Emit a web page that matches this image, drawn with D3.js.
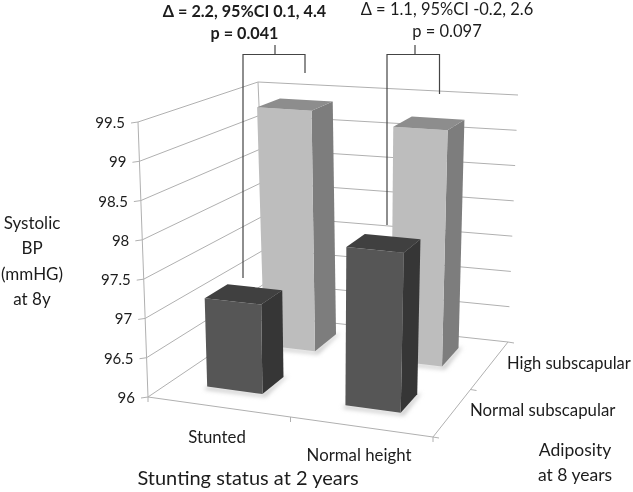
<!DOCTYPE html>
<html>
<head>
<meta charset="utf-8">
<script src="https://cdn.jsdelivr.net/npm/d3@7/dist/d3.min.js"></script>
<style>
html, body { margin: 0; padding: 0; background: #fff; }
svg { display: block; filter: blur(0.35px); }
text { font-family: Lato, "Open Sans", sans-serif; fill: #1c1c1c; }
</style>
</head>
<body>
<div id="chart"></div>
<script>
var categories = ["Stunted", "Normal height"];
var depths = ["Normal subscapular", "High subscapular"];
var normalSubscapular = [97.15, 98.0];
var highSubscapular = [99.35, 99.2];
var valueTicks = [96, 96.5, 97, 97.5, 98, 98.5, 99, 99.5];
var yTitle = ["Systolic", "BP", "(mmHG)", "at 8y"];
var depthTitle = ["Adiposity", "at 8 years"];
var xTitle = "Stunting status at 2 years";
var notes = [
  { lines: ["\u0394 = 2.2, 95%CI 0.1, 4.4", "p = 0.041"], bold: true },
  { lines: ["\u0394 = 1.1, 95%CI -0.2, 2.6", "p = 0.097"], bold: false }
];

var width = 633, height = 492;
var svg = d3.select("#chart").append("svg").attr("width", width).attr("height", height);

var blur = svg.append("defs").append("filter").attr("id", "soft")
  .attr("x", "-20%").attr("y", "-20%").attr("width", "140%").attr("height", "140%");
blur.append("feGaussianBlur").attr("stdDeviation", 2);

// box corners on screen: floor then ceiling, front-left, front-right, back-right, back-left
var floor = [[148, 397], [433, 437], [508, 342], [268, 316]];
var ceil = [[138, 122], [441, 146], [518, 95], [258, 82]];

function bilinear(c, u, v) {
  return [0, 1].map(function(i) {
    return c[0][i] * (1 - u) * (1 - v) + c[1][i] * u * (1 - v) + c[2][i] * u * v + c[3][i] * (1 - u) * v;
  });
}
function project(u, v, w) {
  var a = bilinear(floor, u, v), b = bilinear(ceil, u, v);
  return [a[0] + (b[0] - a[0]) * w, a[1] + (b[1] - a[1]) * w];
}

var wScale = d3.scaleLinear().domain([96, 99.5]).range([0, 1]);
var uScale = d3.scaleBand().domain(categories).range([0, 1]).paddingInner(0.6).paddingOuter(0.3).align(0.44);
var vScale = d3.scaleBand().domain(depths).range([0, 1]).paddingInner(0.6).paddingOuter(0.3).align(0.63);

var line = d3.line();
var gridColor = "#b0b0b0";

function seg(g, a, b, color) {
  g.append("path").attr("d", line([a, b])).attr("fill", "none")
    .attr("stroke", color || gridColor).attr("stroke-width", 1);
}

// walls and floor
var grid = svg.append("g");
valueTicks.forEach(function(t) {
  var w = wScale(t);
  seg(grid, project(0, 0, w), project(0, 1, w));
  seg(grid, project(0, 1, w), project(1, 1, w));
  var p = project(0, 0, w);
  seg(grid, [p[0] - 7, p[1] + 1], p);
  svg.append("text").attr("x", p[0] - 13).attr("y", p[1] + 6).attr("text-anchor", "end")
    .attr("font-size", 15).text(t);
});
seg(grid, project(0, 0, 0), project(0, 0, 1));
seg(grid, project(0, 1, 0), project(0, 1, 1));
seg(grid, project(0, 0, 0), project(1, 0, 0));
seg(grid, project(1, 0, 0), project(1, 1, 0));

[0, 0.5, 1].forEach(function(u) {
  var p = project(u, 0, 0);
  seg(grid, p, [p[0], p[1] + 5]);
});
[0, 0.5, 1].forEach(function(v) {
  var p = project(1, v, 0);
  seg(grid, p, [p[0] + 6, p[1] + 1]);
});

// bars, back row first
var rows = [
  { depth: depths[1], values: highSubscapular, front: "#bdbdbd", top: "#8d8d8d", side: "#7d7d7d" },
  { depth: depths[0], values: normalSubscapular, front: "#565656", top: "#404040", side: "#363636" }
];

rows.forEach(function(row) {
  var v0 = vScale(row.depth), v1 = v0 + vScale.bandwidth();
  categories.forEach(function(cat, i) {
    var u0 = uScale(cat), u1 = u0 + uScale.bandwidth();
    var w = wScale(row.values[i]);
    var g = svg.append("g");
    var bFL = project(u0, v0, 0), bFR = project(u1, v0, 0), bBR = project(u1, v1, 0);
    var tFL = project(u0, v0, w), tFR = project(u1, v0, w), tBR = project(u1, v1, w), tBL = project(u0, v1, w);
    g.append("path").attr("filter", "url(#soft)").attr("fill", "#c4c4c4")
      .attr("d", line([bFL, bFR, bBR, [bBR[0] + 4, bBR[1] - 1], [bFR[0] + 3, bFR[1] + 3], [bFL[0] - 3, bFL[1] + 3]]) + "Z");
    g.append("path").attr("fill", row.side).attr("d", line([tFR, tBR, bBR, bFR]) + "Z");
    g.append("path").attr("fill", row.front).attr("d", line([tFL, tFR, bFR, bFL]) + "Z");
    g.append("path").attr("fill", row.top).attr("d", line([tFL, tFR, tBR, tBL]) + "Z");
  });
});

// brackets
var bracketColor = "#444";
var brackets = svg.append("g").attr("fill", "none").attr("stroke", bracketColor).attr("stroke-width", 1.2);
brackets.append("path").attr("d", line([[243, 278], [243, 54.5], [305, 54.5], [305, 73]]));
brackets.append("path").attr("d", line([[275, 45], [275, 54]]));
brackets.append("path").attr("d", line([[387, 225], [387, 54.5], [439.5, 54.5], [439.5, 94]]));
brackets.append("path").attr("d", line([[415, 45], [415, 54]]));

// text
var noteX = [244.5, 447], noteY = [[17, 39], [15, 37]];
var noteSize = [16.2, 16.5];
notes.forEach(function(n, i) {
  n.lines.forEach(function(s, j) {
    svg.append("text").attr("x", noteX[i]).attr("y", noteY[i][j]).attr("text-anchor", "middle")
      .attr("font-size", noteSize[i]).attr("font-weight", n.bold ? 700 : 400).text(s);
  });
});
yTitle.forEach(function(s, i) {
  svg.append("text").attr("x", 32).attr("y", 229 + i * 25.3).attr("text-anchor", "middle")
    .attr("font-size", 17).text(s);
});
depthTitle.forEach(function(s, i) {
  svg.append("text").attr("x", 575).attr("y", 456 + i * 25).attr("text-anchor", "middle")
    .attr("font-size", 17.5).text(s);
});
var catLabel = [[217, 443], [359, 461]];
categories.forEach(function(c, i) {
  svg.append("text").attr("x", catLabel[i][0]).attr("y", catLabel[i][1]).attr("text-anchor", "middle")
    .attr("font-size", 16.8).text(c);
});
var depthLabel = [[470, 416], [507, 369]];
var depthSize = [16.8, 16.5];
depths.forEach(function(c, i) {
  svg.append("text").attr("x", depthLabel[i][0]).attr("y", depthLabel[i][1])
    .attr("font-size", depthSize[i]).text(c);
});
svg.append("text").attr("x", 248).attr("y", 485).attr("text-anchor", "middle")
  .attr("font-size", 20).text(xTitle);
</script>
</body>
</html>
